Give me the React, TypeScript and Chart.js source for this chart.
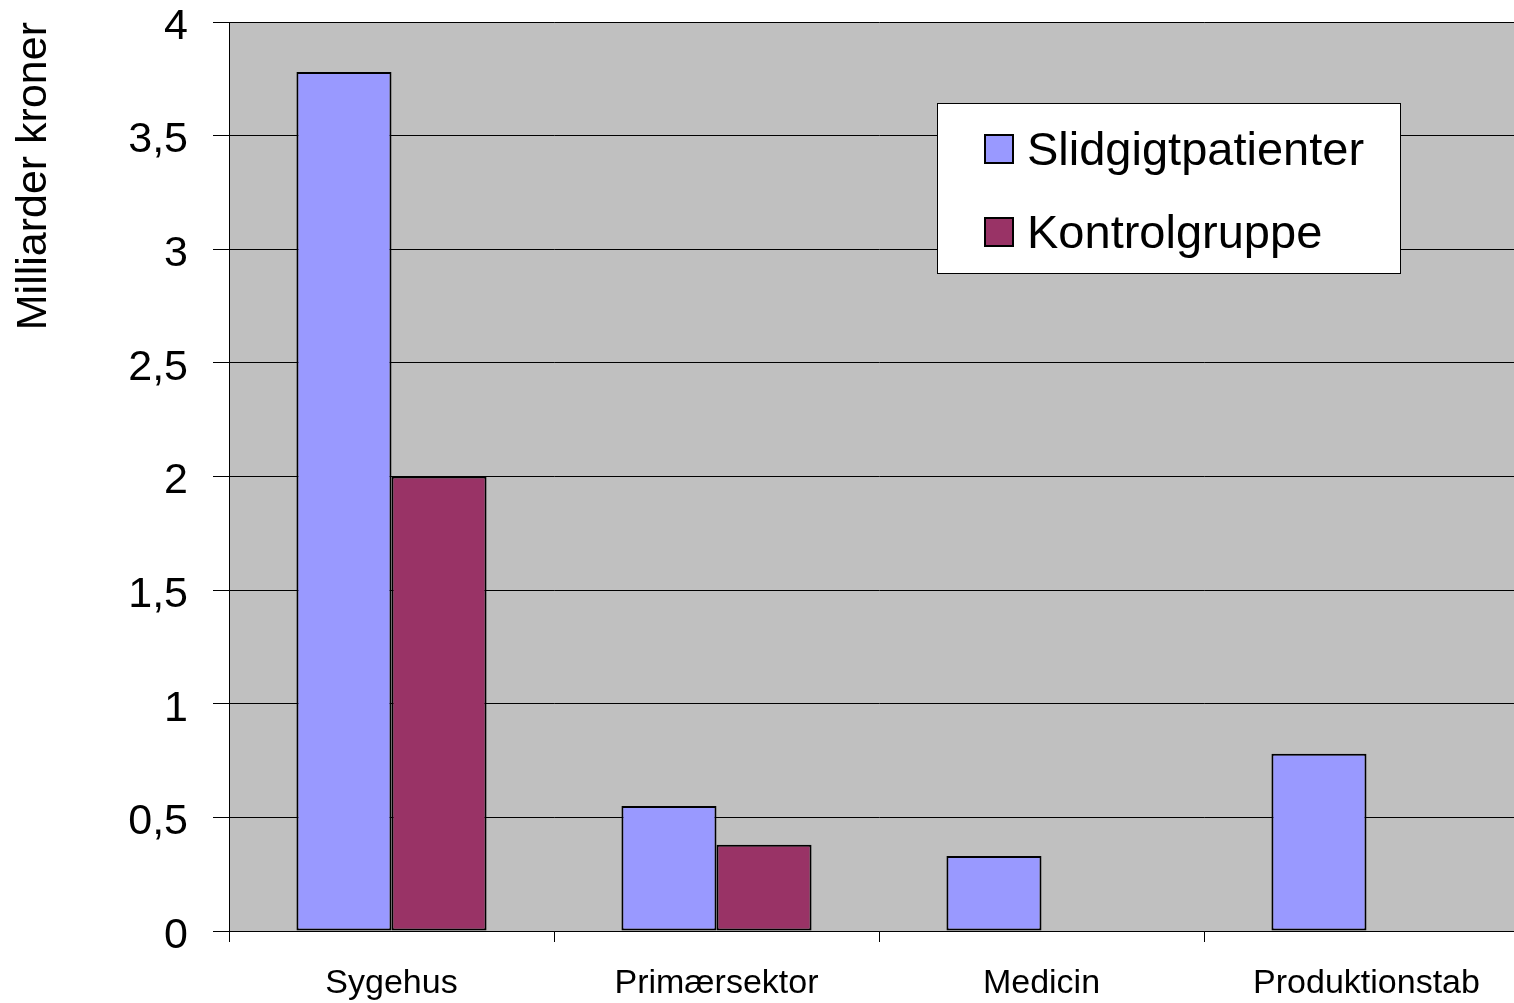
import React, { useEffect, useRef } from "react";
import { Chart, registerables } from "chart.js";

Chart.register(...registerables);

const categories = ["Sygehus", "Primærsektor", "Medicin", "Produktionstab"];
const seriesNames = ["Slidgigtpatienter", "Kontrolgruppe"];
const slidgigt = [3.78, 0.55, 0.33, 0.78];
const kontrol: (number | null)[] = [2.0, 0.38, null, null];
const yTickLabels = ["0", "0,5", "1", "1,5", "2", "2,5", "3", "3,5", "4"];
const seriesColors = ["#9999FF", "#993366"];

const FONT = "'Liberation Sans', Arial, Helvetica, sans-serif";

const plotBg = {
  id: "plotBg",
  beforeDraw(chart: any) {
    const { ctx, chartArea } = chart;
    ctx.save();
    ctx.fillStyle = "#C0C0C0";
    ctx.fillRect(chartArea.left, chartArea.top, chartArea.right - chartArea.left, chartArea.bottom - chartArea.top);
    ctx.restore();
  },
};

const boxLegend = {
  id: "boxLegend",
  afterDraw(chart: any) {
    const { ctx } = chart;
    const x = 937, y = 103, w = 463, h = 170;
    ctx.save();
    ctx.fillStyle = "#FFFFFF";
    ctx.fillRect(x, y, w, h);
    ctx.strokeStyle = "#000000";
    ctx.lineWidth = 1;
    ctx.strokeRect(x + 0.5, y + 0.5, w, h);
    ctx.font = `47px ${FONT}`;
    ctx.textBaseline = "middle";
    ctx.textAlign = "left";
    chart.data.datasets.forEach((ds: any, i: number) => {
      const cy = 149 + i * 83;
      ctx.fillStyle = ds.backgroundColor;
      ctx.fillRect(985, cy - 14, 28, 28);
      ctx.lineWidth = 2;
      ctx.strokeStyle = "#000";
      ctx.strokeRect(985, cy - 14, 28, 28);
      ctx.fillStyle = "#000";
      ctx.fillText(ds.label, 1027, cy + 3);
    });
    ctx.restore();
  },
};

export default function App() {
  const ref = useRef<HTMLCanvasElement | null>(null);
  useEffect(() => {
    document.body.style.margin = "0";
    document.documentElement.style.overflow = "hidden";
    document.body.style.overflow = "hidden";
    const canvas = ref.current!;
    const chart = new Chart(canvas, {
      type: "bar",
      data: {
        labels: categories,
        datasets: [
          {
            label: seriesNames[0],
            data: slidgigt,
            backgroundColor: seriesColors[0],
            borderColor: "#000",
            borderWidth: 2,
            borderSkipped: false,
          },
          {
            label: seriesNames[1],
            data: kontrol,
            backgroundColor: seriesColors[1],
            borderColor: "#000",
            borderWidth: 2,
            borderSkipped: false,
          },
        ],
      },
      options: {
        responsive: false,
        animation: false,
        events: [],
        layout: { padding: { left: 0, top: 22, right: 11, bottom: 0 } },
        datasets: { bar: { categoryPercentage: 0.585, barPercentage: 1 } },
        plugins: {
          legend: { display: false },
          tooltip: { enabled: false },
          title: { display: false },
        },
        scales: {
          x: {
            grid: {
              offset: true,
              drawOnChartArea: false,
              drawTicks: true,
              tickLength: 11,
              color: "#000",
            },
            border: { display: true, color: "#000", width: 1 },
            ticks: {
              color: "#000",
              font: { family: FONT, size: 34 },
              padding: 21,
              maxRotation: 0,
              autoSkip: false,
            },
            afterFit(scale: any) {
              scale.height = 72;
            },
          },
          y: {
            min: 0,
            max: 4,
            ticks: {
              stepSize: 0.5,
              color: "#000",
              font: { family: FONT, size: 43 },
              padding: 25,
              labelOffset: 5,
              callback: (_v: any, i: number) => yTickLabels[i],
            },
            grid: {
              color: "#000",
              lineWidth: 1,
              tickLength: 16,
              drawTicks: true,
            },
            border: { display: true, color: "#000", width: 1 },
            title: {
              display: true,
              text: "Milliarder kroner",
              align: "end",
              color: "#000",
              font: { family: FONT, size: 43 },
              padding: { top: 8, bottom: 0 },
            },
            afterFit(scale: any) {
              scale.width = 229;
              scale.paddingTop = 0;
              scale.paddingBottom = 0;
            },
          },
        },
      },
      plugins: [plotBg, boxLegend],
    } as any);
    return () => chart.destroy();
  }, []);
  return <canvas ref={ref} width={1540} height={1003} style={{ display: "block" }} />;
}
